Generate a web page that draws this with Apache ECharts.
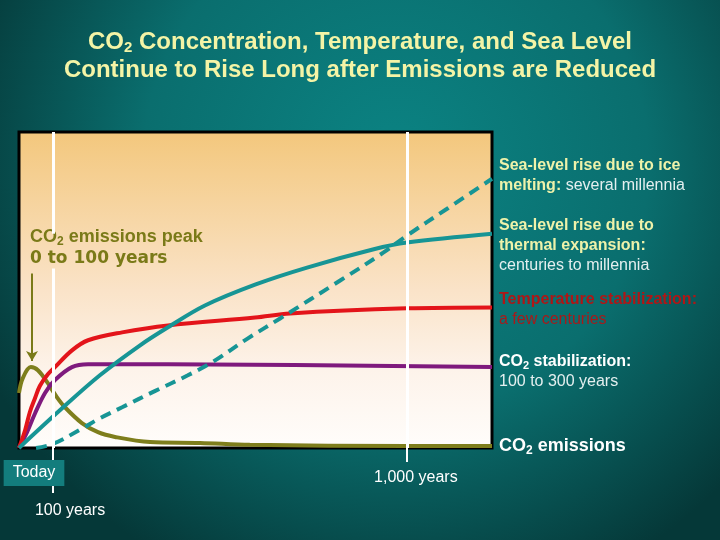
<!DOCTYPE html>
<html>
<head>
<meta charset="utf-8">
<script src="https://cdn.jsdelivr.net/npm/echarts@6/dist/echarts.min.js"></script>
<style>
  html, body { margin: 0; padding: 0; }
  #chart { width: 720px; height: 540px; }
</style>
</head>
<body>
<div id="chart"></div>
<script>
// relative time (0 = today, 100 = right edge) vs relative magnitude (0..100)
var co2Emissions = [[0, 17.4], [0.8, 22.1], [2.5, 25.6], [4.0, 24.6], [6.1, 20.5], [8.0, 16.1], [9.7, 12.9],
  [13.3, 7.9], [16.7, 5.0], [20.3, 3.5], [27.7, 1.9], [38.3, 1.6], [48.8, 1.0], [82, 0.6], [100, 0.6]];
var co2Concentration = [[0, 0], [1.7, 5.0], [3.4, 11.0], [5.5, 17.4], [7.6, 21.5], [11.2, 25.6], [14.6, 26.5],
  [31.5, 26.5], [100, 25.6]];
var temperature = [[0, 0], [1.3, 5.7], [2.3, 11.4], [3.4, 15.8], [4.4, 19.6], [6.1, 23.3], [7.6, 25.6],
  [11.2, 30.9], [14.6, 34.1], [21.8, 36.6], [31.5, 38.8], [49.9, 41.3], [57.3, 42.6], [82, 44.2], [100, 44.5]];
var seaThermal = [[0, 0], [8.7, 12.0], [17.1, 23.0], [25.6, 32.5], [31.5, 38.2], [39.3, 45.1], [49.9, 51.7],
  [60.9, 57.1], [74.8, 62.8], [82, 65.0], [100, 67.8]];
var seaIce = [[3.6, 0], [7.2, 1.3], [13.5, 6.3], [16.7, 9.1], [21.8, 12.9], [28.7, 18.0], [35.7, 23.0],
  [40.8, 27.1], [48.4, 34.7], [55.2, 41.0], [67.9, 53.0], [77.0, 61.8], [82, 67.2], [90.5, 75.7], [100, 85.2]];

var tickValues = [0, 7.2, 82];
var tickLabels = ['Today', '100 years', '1,000 years'];
var peakArrow = [2.75, 55.2, 27.5];

var chart = echarts.init(document.getElementById('chart'));

var FONT = '"Liberation Sans", Arial, sans-serif';
var sideRich = {
  b: { fontFamily: FONT, fontSize: 16, fontWeight: 'bold', color: '#eef2aa', lineHeight: 20 },
  n: { fontFamily: FONT, fontSize: 16, color: '#e4efef', lineHeight: 20 },
  r: { fontFamily: FONT, fontSize: 16, fontWeight: 'bold', color: '#b01616', lineHeight: 20 },
  rn: { fontFamily: FONT, fontSize: 16, color: '#a81a1a', lineHeight: 20 },
  w: { fontFamily: FONT, fontSize: 16, fontWeight: 'bold', color: '#ffffff', lineHeight: 20 },
  ws: { fontFamily: FONT, fontSize: 11, fontWeight: 'bold', color: '#ffffff', lineHeight: 20, padding: [9, 0, 0, 0] },
  e: { fontFamily: FONT, fontSize: 18, fontWeight: 'bold', color: '#ffffff', lineHeight: 20 },
  es: { fontFamily: FONT, fontSize: 12, fontWeight: 'bold', color: '#ffffff', lineHeight: 20, padding: [10, 0, 0, 0] }
};

function endLabel(text, dy) {
  return { show: true, formatter: text, distance: 7, offset: [0, dy], rich: sideRich };
}

function curve(name, data, color, label, dashed) {
  return {
    name: name, type: 'line', data: data, showSymbol: false, symbol: 'none',
    smooth: 0.35, clip: false,
    lineStyle: { color: color, width: 4, type: dashed ? [11, 7] : 'solid', cap: 'butt' },
    endLabel: label,
    silent: true
  };
}

var baseX = {
  type: 'value', min: 0, max: 100, position: 'bottom',
  axisLine: { show: false }, splitLine: { show: false }
};

var option = {
  animation: false,
  backgroundColor: {
    type: 'radial', x: 0.55, y: 0.3, r: 0.85,
    colorStops: [
      { offset: 0, color: '#0b8383' },
      { offset: 0.55, color: '#0a6e6e' },
      { offset: 1, color: '#053838' }
    ]
  },
  title: {
    left: 'center', top: 23,
    text: '{t|CO}{s|2}{t| Concentration, Temperature, and Sea Level}\n{t|Continue to Rise Long after Emissions are Reduced}',
    textStyle: {
      rich: {
        t: { fontFamily: FONT, fontSize: 24, fontWeight: 'bold', color: '#f4f4a6', lineHeight: 28 },
        s: { fontFamily: FONT, fontSize: 15, fontWeight: 'bold', color: '#f4f4a6', lineHeight: 28, padding: [11, 0, 0, 0] }
      }
    }
  },
  grid: {
    left: 19, right: 228, top: 132, bottom: 92, show: true,
    outerBoundsMode: 'none', containLabel: false,
    borderColor: '#000', borderWidth: 3,
    backgroundColor: {
      type: 'linear', x: 0, y: 0, x2: 0, y2: 1,
      colorStops: [
        { offset: 0, color: '#f3c77c' },
        { offset: 0.5, color: '#fae3c8' },
        { offset: 0.75, color: '#fdf3ea' },
        { offset: 1, color: '#fffdfb' }
      ]
    }
  },
  xAxis: [
    Object.assign({}, baseX, {
      axisTick: { show: true, customValues: [tickValues[2]], length: 14, lineStyle: { color: '#fff', width: 2 } },
      axisLabel: {
        show: true, customValues: [tickValues[2]], margin: 22, padding: [0, 0, 0, 18],
        color: '#fff', fontFamily: FONT, fontSize: 16,
        formatter: function () { return tickLabels[2]; }
      }
    }),
    Object.assign({}, baseX, {
      axisTick: { show: true, customValues: [tickValues[1]], length: 45, lineStyle: { color: '#fff', width: 2 } },
      axisLabel: {
        show: true, customValues: [tickValues[0], tickValues[1]], margin: 12,
        formatter: function (v) {
          return v === tickValues[0] ? '{sp|}{today|' + tickLabels[0] + '}' : '{yrs|' + tickLabels[1] + '}';
        },
        rich: {
          sp: { width: 30 },
          today: { fontFamily: FONT, fontSize: 16, color: '#fff', backgroundColor: '#137d7d', padding: [5, 9, 5, 9] },
          yrs: { fontFamily: FONT, fontSize: 16, color: '#fff', padding: [43, 0, 0, 34] }
        }
      }
    })
  ],
  yAxis: { type: 'value', min: 0, max: 100, show: false },
  graphic: [{
    type: 'text', left: 30, top: 227, silent: true,
    style: {
      text: '{a|CO}{s|2}{a| emissions peak}\n{b|0 to 100 years}',
      rich: {
        a: { fontFamily: FONT, fontSize: 18, fontWeight: 'bold', fill: '#7a7a18', lineHeight: 21 },
        s: { fontFamily: FONT, fontSize: 12, fontWeight: 'bold', fill: '#7a7a18', lineHeight: 21, padding: [9, 0, 0, 0] },
        b: { fontFamily: '"DejaVu Sans", Verdana, sans-serif', fontSize: 17, fontWeight: 'bold', fill: '#7a7a18', lineHeight: 21 }
      }
    }
  }],
  series: [
    {
      type: 'line', data: [], silent: true,
      markLine: {
        silent: true, symbol: 'none', label: { show: false },
        lineStyle: { color: '#ffffff', width: 3, type: 'solid' },
        data: [
          [{ coord: [tickValues[1], 100] }, { coord: [tickValues[1], 67.8] }],
          [{ coord: [tickValues[1], 56.8] }, { coord: [tickValues[1], 0] }],
          [{ coord: [tickValues[2], 100] }, { coord: [tickValues[2], 0] }],
          [{ coord: [peakArrow[0], peakArrow[1]], symbol: 'none' },
           { coord: [peakArrow[0], peakArrow[2]], symbol: 'arrow', symbolSize: [9, 10],
             lineStyle: { color: '#7a7a18', width: 2 } }]
        ]
      }
    },
    curve('CO2 emissions', co2Emissions, '#7e7e1c',
      endLabel('{e|CO}{es|2}{e| emissions}', 0)),
    curve('CO2 concentration', co2Concentration, '#7f1a7d',
      endLabel('{w|CO}{ws|2}{w| stabilization:}\n{n|100 to 300 years}', 4)),
    curve('Temperature', temperature, '#e3141a',
      endLabel('{r|Temperature stabilization:}\n{rn|a few centuries}', 2)),
    curve('Sea level thermal', seaThermal, '#179595',
      endLabel('{b|Sea-level rise due to}\n{b|thermal expansion:}\n{n|centuries to millennia}', 12)),
    curve('Sea level ice', seaIce, '#179595',
      endLabel('{b|Sea-level rise due to ice}\n{b|melting:}{n| several millennia}', -3), true)
  ]
};

chart.setOption(option);
</script>
</body>
</html>
